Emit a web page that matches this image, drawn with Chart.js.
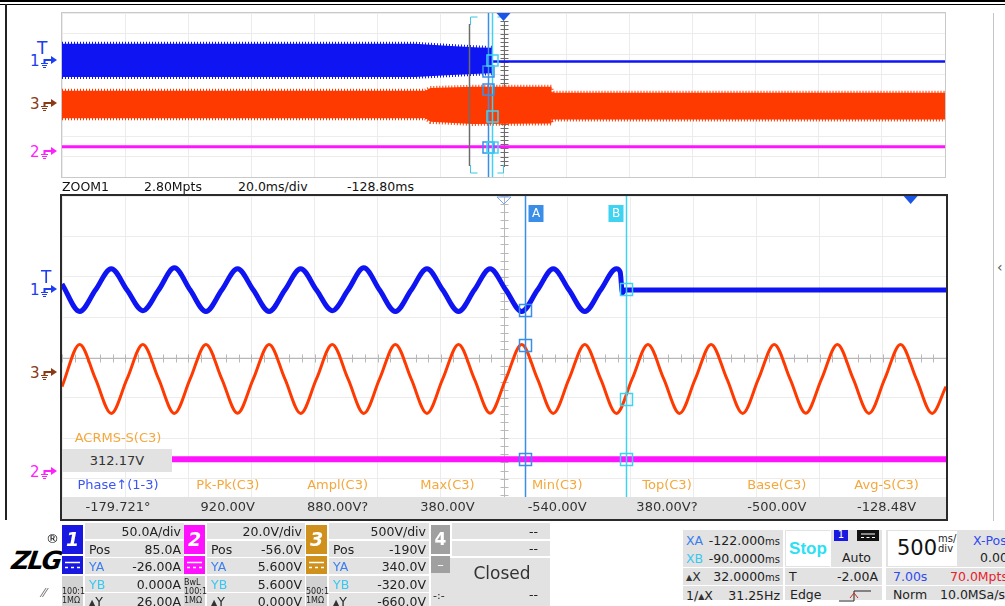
<!DOCTYPE html>
<html>
<head>
<meta charset="utf-8">
<script src="https://cdn.jsdelivr.net/npm/chart.js@4.4.0/dist/chart.umd.min.js"></script>
<style>
  body { margin: 0; width: 1005px; height: 606px; position: relative; overflow: hidden; background: #fff;
         font-family: "DejaVu Sans", sans-serif; color: #222; }
  .abs { position: absolute; white-space: nowrap; }
  .r { text-align: right; }
  .c { text-align: center; }
  .pan { font-size: 12.5px; line-height: 16px; }
  .dt { font-size: 8px; vertical-align: 1px; color: #333; }
  #ovBox { position: absolute; left: 61px; top: 12px; width: 885px; height: 166px; border: 1px solid #c9c9c9; box-sizing: border-box; }
  #mainBox { position: absolute; left: 60px; top: 194px; width: 888px; height: 327px; border: 2px solid #2a2a2a; box-sizing: border-box; }
  canvas { display: block; }
</style>
</head>
<body>

<div class="abs" style="left:0;top:0;width:1005px;height:2px;background:#000"></div>
<div class="abs" style="left:0;top:4px;width:1005px;height:1px;background:#000"></div>
<div class="abs" style="left:5px;top:4px;width:2px;height:516px;background:#222"></div>
<div class="abs" style="left:993px;top:13px;width:1px;height:508px;background:#c4c4c4"></div>
<div class="abs" style="left:997px;top:259px;font-size:14px;color:#555">‹</div>

<div id="ovBox"><canvas id="ovChart" width="883" height="164"></canvas></div>
<div id="mainBox"><canvas id="mainChart" width="884" height="323"></canvas></div>

<div id="labels"></div>

<script>
// ---- channel setup (ch1 current, ch2, ch3 voltage) ----
const chNames = ['1', '2', '3'];
const chScale = [50, 20, 500];      // units per division
const chPos = [85, -56, -190];      // offset, same units

// cursors (ms) and their readings per channel [ch1, ch2, ch3]
const cursorMs = [-122, -90];
const cursorYA = [-26, 5.6, 340];
const cursorYB = [0, 5.6, -320];

// zoom window (ms), 20 ms/div, centre -128.80 ms
const zoomWin = [-268.8, 11.2];

// ---- overview (seconds, 500 ms/div) : envelopes ----
const ovBlueT = [-3.5, -0.70, -0.45, -0.20, -0.092];
const ovBlueHi = [40, 40, 35, 31, 30];
const ovBlueLo = [-41, -41, -37, -33, -32];
const ovBlueFlatT = [-0.092, 3.5];
const ovBlueFlat = [-3, -3];

const ovRedT = [-3.5, -0.62, -0.58, -0.25, 0.38, 0.381, 3.5];
const ovRedHi = [295, 295, 360, 390, 390, 245, 245];
const ovRedLo = [-380, -380, -465, -515, -505, -405, -405];

const ovMagT = [-3.5, 3.5];
const ovMag = [5.6, 5.6];

// ---- zoom view (ms) ----
const blueTimes = [-268.8, -263.2, -258.2, -253.2, -248.2, -243.2, -238.2, -233.2, -228.2, -223.2,
  -218.2, -213.2, -208.2, -203.2, -198.2, -193.2, -188.2, -183.2, -178.2, -173.2,
  -168.2, -163.2, -158.2, -153.2, -148.2, -143.2, -138.2, -133.2, -128.2, -123.2,
  -118.2, -113.2, -108.2, -103.2, -98.2, -93.2, -92.0, -91.3, -90.6, -60.0, -30.0, 0.0, 11.2];
const blueAmps = [6, -28, -1.5, 25, -1.5, -27, -1.5, 26, -1.5, -28,
  -1.5, 25, -1.5, -28, -1.5, 25, -1.5, -27, -1.5, 26,
  -1.5, -28, -1.5, 25, -1.5, -28, -1.5, 25, -1.5, -28,
  -1.5, 25, -1.5, -28, -1.5, 25, 21, -5, -1.5, -1.5, -1.5, -1.5, -1.5];

const redTimes = [-268.8, -263.2, -258.2, -253.2, -248.2, -243.2, -238.2, -233.2, -228.2, -223.2,
  -218.2, -213.2, -208.2, -203.2, -198.2, -193.2, -188.2, -183.2, -178.2, -173.2,
  -168.2, -163.2, -158.2, -153.2, -148.2, -143.2, -138.2, -133.2, -128.2, -123.2,
  -118.2, -113.2, -108.2, -103.2, -98.2, -93.2, -88.2, -83.2, -78.2, -73.2,
  -68.2, -63.2, -58.2, -53.2, -48.2, -43.2, -38.2, -33.2, -28.2, -23.2,
  -18.2, -13.2, -8.2, -3.2, 1.8, 6.8, 11.2];
const redVolts = [-170, 352, -75, -502, -75, 350, -75, -502, -75, 352,
  -75, -500, -75, 352, -75, -502, -75, 350, -75, -502,
  -75, 352, -75, -502, -75, 352, -75, -500, -75, 352,
  -75, -502, -75, 352, -75, -502, -75, 350, -75, -502,
  -75, 352, -75, -502, -75, 352, -75, -500, -75, 352,
  -75, -502, -75, 352, -75, -502, -170];

const magTimes = [-268.8, 11.2];
const magVolts = [5.6, 5.6];

// measurement strip
const measNames = ['Phase↑(1-3)', 'Pk-Pk(C3)', 'Ampl(C3)', 'Max(C3)', 'Min(C3)', 'Top(C3)', 'Base(C3)', 'Avg-S(C3)'];
const measValues = ['-179.721°', '920.00V', '880.00V?', '380.00V', '-540.00V', '380.00V?', '-500.00V', '-128.48V'];

const BLUE = '#0f14f2', RED = '#ff3a00', MAG = '#ff14ff';
const CUR_A = '#3a8ee8', CUR_B = '#3fd3f2';

function pts(xs, ys) { return xs.map((x, i) => ({ x: x, y: ys[i] })); }

function buildScales(xMin, xMax) {
  const s = {
    xd: { type: 'linear', position: 'bottom', min: -7, max: 7, ticks: { stepSize: 1, display: false },
          grid: { color: '#ececec', drawTicks: false }, border: { display: false } },
    yd: { type: 'linear', position: 'left', min: -4, max: 4, ticks: { stepSize: 1, display: false },
          grid: { color: '#ececec', drawTicks: false }, border: { display: false } },
    x: { type: 'linear', display: false, min: xMin, max: xMax }
  };
  chNames.forEach((n, i) => {
    s['c' + n] = { type: 'linear', display: false, min: -4 * chScale[i] - chPos[i], max: 4 * chScale[i] - chPos[i] };
  });
  return s;
}

function line(data, color, width, axis, extra) {
  return Object.assign({ data: data, borderColor: color, backgroundColor: color, borderWidth: width,
    pointRadius: 0, xAxisID: 'x', yAxisID: axis, fill: false }, extra || {});
}

// overlay: centre ticks, cursors, markers
const scopeOverlay = {
  id: 'scopeOverlay',
  beforeDatasetsDraw(chart, args, o) {
    const { ctx, scales } = chart;
    const x0 = Math.round(scales.xd.getPixelForValue(0)) + 0.5;
    const y0 = Math.round(scales.yd.getPixelForValue(0)) + 0.5;
    ctx.save();
    ctx.strokeStyle = o.axisColor;
    ctx.lineWidth = 1;
    ctx.beginPath();
    if (o.hAxis) {
      ctx.moveTo(chart.chartArea.left, y0); ctx.lineTo(chart.chartArea.right, y0);
      for (let i = -35; i <= 35; i++) {
        const x = Math.round(scales.xd.getPixelForValue(i / 5)) + 0.5;
        ctx.moveTo(x, y0 - 4); ctx.lineTo(x, y0 + 4);
      }
    }
    const top = chart.chartArea.top + (o.hAxis ? 0 : 8), bottom = chart.chartArea.bottom - (o.hAxis ? 0 : 10);
    ctx.moveTo(x0, top); ctx.lineTo(x0, bottom);
    for (let i = -20; i <= 20; i++) {
      const y = Math.round(scales.yd.getPixelForValue(i / 5)) + 0.5;
      if (y < top || y > bottom) continue;
      ctx.moveTo(x0 - 4, y); ctx.lineTo(x0 + 4, y);
    }
    ctx.stroke();
    ctx.restore();
  },
  afterDatasetsDraw(chart, args, o) {
    const { ctx, scales, chartArea: a } = chart;
    const xs = cursorMs.map(t => Math.round(scales.x.getPixelForValue(t / o.msPerUnit)) + 0.5);
    ctx.save();

    if (o.bracket) {
      const b1 = Math.round(scales.x.getPixelForValue(zoomWin[0] / o.msPerUnit)) + 0.5;
      const b2 = Math.round(scales.x.getPixelForValue(zoomWin[1] / o.msPerUnit)) - 0.5;
      ctx.strokeStyle = '#6c6c6c'; ctx.lineWidth = 1.5;
      ctx.beginPath();
      ctx.moveTo(b1 - 1, a.top + 11); ctx.lineTo(b1 - 1, a.bottom - 11);
      ctx.stroke();
      ctx.strokeStyle = '#3cc8e0'; ctx.lineWidth = 1;
      ctx.beginPath();
      ctx.moveTo(b1 + 7, a.top + 4); ctx.lineTo(b1, a.top + 4); ctx.lineTo(b1, a.top + 12);
      ctx.moveTo(b1, a.bottom - 12); ctx.lineTo(b1, a.bottom - 4); ctx.lineTo(b1 + 7, a.bottom - 4);
      ctx.moveTo(b2 - 7, a.top + 4); ctx.lineTo(b2 - 1, a.top + 4);
      ctx.moveTo(b2 - 7, a.bottom - 4); ctx.lineTo(b2 - 1, a.bottom - 4); ctx.lineTo(b2 - 1, a.bottom - 12);
      ctx.stroke();
    }

    // cursor lines
    [CUR_A, CUR_B].forEach((c, i) => {
      ctx.strokeStyle = c; ctx.lineWidth = 1.5;
      ctx.beginPath(); ctx.moveTo(xs[i], a.top); ctx.lineTo(xs[i], a.bottom); ctx.stroke();
    });

    // cursor squares on every channel
    const sq = o.square;
    chNames.forEach((n, ci) => {
      [cursorYA, cursorYB].forEach((vals, k) => {
        const y = Math.round(scales['c' + n].getPixelForValue(vals[ci])) + 0.5;
        ctx.strokeStyle = k === 0 ? CUR_A : CUR_B; ctx.lineWidth = 1.5;
        ctx.strokeRect(xs[k] - sq / 2, y - sq / 2, sq, sq);
      });
    });

    // A / B tags
    if (o.tags) {
      ctx.font = '12px "DejaVu Sans"'; ctx.textAlign = 'center'; ctx.textBaseline = 'middle';
      [['A', CUR_A, xs[0] + 3], ['B', CUR_B, xs[1] - 18]].forEach(([t, c, x]) => {
        ctx.fillStyle = c; ctx.fillRect(x, a.top + 9, 15, 17);
        ctx.fillStyle = '#fff'; ctx.fillText(t, x + 7.5, a.top + 18);
      });
    }

    // trigger position markers
    const tx = scales.x.getPixelForValue(0);
    ctx.fillStyle = '#1a55e8';
    ctx.beginPath(); ctx.moveTo(tx - 7, a.top); ctx.lineTo(tx + 7, a.top); ctx.lineTo(tx, a.top + 8); ctx.closePath(); ctx.fill();
    if (o.hollowCentre) {
      const cx = scales.xd.getPixelForValue(0);
      ctx.strokeStyle = '#7aa6ee'; ctx.lineWidth = 1;
      ctx.beginPath(); ctx.moveTo(cx - 7, a.top + 1); ctx.lineTo(cx + 7, a.top + 1); ctx.lineTo(cx, a.top + 8); ctx.closePath(); ctx.stroke();
    }
    ctx.restore();
  }
};

const baseOpts = { responsive: false, maintainAspectRatio: false, animation: false, events: [],
  layout: { padding: 0 } };

// band edges drawn dotted to mimic the hatched envelope of the dense traces
const fringe = { borderWidth: 4, borderDash: [1, 2] };

new Chart(document.getElementById('ovChart'), {
  type: 'line',
  data: { datasets: [
    line(pts(ovBlueT, ovBlueHi), BLUE, 4, 'c1', Object.assign({ fill: '+1' }, fringe)),
    line(pts(ovBlueT, ovBlueLo), BLUE, 4, 'c1', fringe),
    line(pts(ovBlueFlatT, ovBlueFlat), BLUE, 2.5, 'c1'),
    line(pts(ovRedT, ovRedHi), RED, 4, 'c3', Object.assign({ fill: '+1' }, fringe)),
    line(pts(ovRedT, ovRedLo), RED, 4, 'c3', fringe),
    line(pts(ovMagT, ovMag), MAG, 3, 'c2')
  ] },
  options: Object.assign({}, baseOpts, {
    scales: buildScales(-3.5, 3.5),
    plugins: { legend: { display: false }, tooltip: { enabled: false },
      scopeOverlay: { msPerUnit: 1000, bracket: true, tags: false, hollowCentre: false, hAxis: false, square: 11, axisColor: '#6c6c6c' } }
  }),
  plugins: [scopeOverlay]
});

new Chart(document.getElementById('mainChart'), {
  type: 'line',
  data: { datasets: [
    line(pts(blueTimes, blueAmps), BLUE, 5, 'c1', { cubicInterpolationMode: 'monotone' }),
    line(pts(redTimes, redVolts), RED, 3, 'c3', { cubicInterpolationMode: 'monotone' }),
    line(pts(magTimes, magVolts), MAG, 6, 'c2')
  ] },
  options: Object.assign({}, baseOpts, {
    scales: buildScales(zoomWin[0], zoomWin[1]),
    plugins: { legend: { display: false }, tooltip: { enabled: false },
      scopeOverlay: { msPerUnit: 1, bracket: false, tags: true, hollowCentre: true, hAxis: true, square: 12, axisColor: '#b8b8b8' } }
  }),
  plugins: [scopeOverlay]
});

// ---- text and panels (plain DOM) ----
const host = document.getElementById('labels');
function put(x, y, html, style, cls) {
  const d = document.createElement('div');
  d.className = 'abs ' + (cls || '');
  d.style.cssText = `left:${x}px;top:${y}px;` + (style || '');
  d.innerHTML = html;
  host.appendChild(d);
  return d;
}
function cell(x, y, w, h, bg) { return put(x, y, '', `width:${w}px;height:${h}px;background:${bg || '#e2e2e2'}`); }

const gnd = c => `<svg width="18" height="14" style="vertical-align:middle"><path d="M1 8.5h7M2 10.5h5M3 12.5h3" stroke="${c}" stroke-width="1"/>` +
  `<path d="M4.5 8V5H11" stroke="${c}" stroke-width="2" fill="none"/><path d="M11 1L17 5L11 9Z" fill="${c}"/></svg>`;
const DT = '<span class="dt">▲</span>';

// channel tags, overview and zoom view
[['#1e3cf0', '1', 52], ['#8a3a14', '3', 95], ['#ff20ff', '2', 143],
 ['#1e3cf0', '1', 281], ['#8a3a14', '3', 364], ['#ff20ff', '2', 463]].forEach(([c, n, y]) => {
  put(30, y, `<span style="font-size:15px">${n}</span>${gnd(c)}`, `color:${c};line-height:18px`);
});
put(37, 38, 'T', 'color:#1e3cf0;font-size:17px');
put(41, 267, 'T', 'color:#1e3cf0;font-size:17px');

// zoom caption
[['ZOOM1', 62], ['2.80Mpts', 144], ['20.0ms/div', 238], ['-128.80ms', 347]].forEach(([t, x]) => {
  put(x, 179, t, 'font-size:12.5px;color:#111');
});

// measurement strip on top of the zoom view
put(62, 430, 'ACRMS-S(C3)', 'width:112px;font-size:13px;color:#f4a83c', 'c');
put(62, 449, '312.17V', 'width:110px;height:23px;line-height:23px;background:#e2e2e2;font-size:13px;color:#333', 'c');
cell(62, 497, 884, 22);
measNames.forEach((n, i) => {
  const cx = 118 + i * 109.8;
  put(cx - 55, 477, n, `width:110px;font-size:13px;color:${i === 0 ? '#3c55f2' : '#f4a83c'}`, 'c');
  put(cx - 55, 499, measValues[i], 'width:110px;font-size:13px;color:#333', 'c');
});

// logo
put(12, 546, 'ZLG', 'font:italic bold 25px "DejaVu Sans";color:#000;letter-spacing:-2px;transform:skewX(-8deg)');
put(46, 531, '®', 'font-size:13px;color:#000');
put(42, 585, '⁄⁄', 'font-size:13px;color:#777');

// channel panels
function chanPanel(x, rowsW, color, num, rows, probe) {
  cell(x, 525, 21, 29, color);
  put(x, 525, num, 'width:21px;font:italic bold 19px "DejaVu Sans";color:#fff;line-height:29px', 'c');
  cell(x, 556, 21, 18, color);
  put(x, 556, '<svg width="21" height="18"><path d="M3 6.5h15M3 11.5h3M9 11.5h3M15 11.5h3" stroke="#fff" stroke-width="1.5"/></svg>', 'width:21px;line-height:0');
  cell(x, 576, 21, 30, '#d2d2d2');
  put(x, 606 - probe.length * 9 - 1, probe.join('<br>'), 'font-size:8px;line-height:9px;color:#222');
  const rx = x + 23;
  const ys = [523, 541, 558, 576, 593];
  rows.forEach((r, i) => {
    cell(rx, ys[i], rowsW, i === 4 ? 13 : 16);
    if (r[0]) put(rx + 4, ys[i], r[0], `color:${r[2] || '#222'};line-height:17px`, 'pan');
    put(rx, ys[i], r[1], `width:${rowsW - 3}px;line-height:17px`, 'pan r');
  });
}
chanPanel(62, 99, '#1818e0', '1', [['', '50.0A/div'], ['Pos', '85.0A'], ['YA', '-26.00A', '#3a7ef0'], ['YB', '0.000A', '#36c8f0'], [DT + 'Y', '26.00A']], ['100:1', '1MΩ']);
chanPanel(184, 98, '#ff10ff', '2', [['', '20.0V/div'], ['Pos', '-56.0V'], ['YA', '5.600V', '#3a7ef0'], ['YB', '5.600V', '#36c8f0'], [DT + 'Y', '0.000V']], ['BwL', '100:1', '1MΩ']);
chanPanel(306, 100, '#d0901c', '3', [['', '500V/div'], ['Pos', '-190V'], ['YA', '340.0V', '#3a7ef0'], ['YB', '-320.0V', '#36c8f0'], [DT + 'Y', '-660.0V']], ['500:1', '1MΩ']);

// channel 4 (closed)
cell(431, 525, 19, 29, '#a0a0a0');
put(431, 525, '4', 'width:19px;font:bold 17px "DejaVu Sans";color:#fff;line-height:29px', 'c');
cell(452, 523, 98, 16); put(452, 523, '--', 'width:86px;line-height:17px', 'pan r');
cell(452, 541, 98, 15); put(452, 541, '--', 'width:86px;line-height:16px', 'pan r');
cell(431, 558, 119, 48);
cell(431, 556, 19, 17, '#a0a0a0'); put(431, 556, '–', 'width:19px;color:#fff;font-size:13px;line-height:17px', 'c');
put(452, 563, 'Closed', 'width:100px;font-size:17px;color:#333', 'c');
put(433, 589, '-:-', 'font-size:11px');
put(452, 586, '--', 'width:86px;line-height:17px', 'pan r');

// cursor readout
cell(683, 530, 100, 70);
cell(683, 567, 100, 1, '#fff'); cell(683, 585, 100, 1, '#fff');
[['XA', '#3a7ef0', '-122.000'], ['XB', '#36c8f0', '-90.0000'], [DT + 'X', '#333', '32.0000']].forEach(([k, c, v], i) => {
  put(686, 532 + i * 18, `<span style="color:${c}">${k}</span>`, 'line-height:18px', 'pan');
  put(683, 532 + i * 18, v + '<span style="font-size:10px">ms</span>', 'width:97px;line-height:18px', 'pan r');
});
put(686, 587, '1/' + DT + 'X', 'line-height:17px', 'pan');
put(683, 587, '31.25Hz', 'width:97px;line-height:17px', 'pan r');

// run state + trigger
cell(785, 530, 97, 70);
cell(786, 531, 44, 35, '#fff');
put(786, 531, 'Stop', 'width:44px;font:bold 17px "Liberation Sans";color:#2ce0f4;line-height:35px', 'c');
cell(785, 567, 97, 1, '#fff'); cell(785, 585, 97, 1, '#fff'); cell(830, 530, 1, 37, '#fff');
cell(834, 530, 14, 11, '#1818e0'); put(834, 529, '1', 'width:14px;font-size:10px;color:#fff', 'c');
cell(857, 530, 22, 11, '#111'); put(857, 530, '<svg width="22" height="11"><path d="M4 4h14M4 7.5h3M9.5 7.5h3M15 7.5h3" stroke="#fff" stroke-width="1.2"/></svg>', 'line-height:0');
put(832, 549, 'Auto', 'width:49px;line-height:17px', 'pan c');
put(789, 569, 'T', 'line-height:16px', 'pan');
put(785, 569, '-2.00A', 'width:93px;line-height:16px', 'pan r');
put(790, 587, 'Edge', 'line-height:16px', 'pan');
put(838, 588, '<svg width="34" height="14"><path d="M1 12H16V2H33" stroke="#222" fill="none"/><path d="M12 9L16 4L20 9" stroke="#c03020" fill="none"/></svg>', '');

// timebase
cell(886, 530, 119, 70);
cell(888, 531, 69, 35, '#fff');
put(897, 534, '500', 'font-size:21px;color:#111;line-height:28px');
put(938, 534, 'ms/<br>div', 'font-size:10px;line-height:10px;color:#222');
put(973, 532, 'X-Pos', 'color:#2f4af0;line-height:17px', 'pan');
put(980, 549, '0.00s', 'line-height:17px', 'pan');
cell(886, 567, 119, 1, '#fff'); cell(886, 585, 119, 1, '#fff');
put(893, 569, '7.00s', 'color:#2f4af0;line-height:16px', 'pan');
put(950, 569, '70.0Mpts', 'color:#e8202a;line-height:16px', 'pan');
put(893, 587, 'Norm', 'line-height:16px', 'pan');
put(940, 587, '10.0MSa/s', 'line-height:16px', 'pan');
</script>
</body>
</html>
